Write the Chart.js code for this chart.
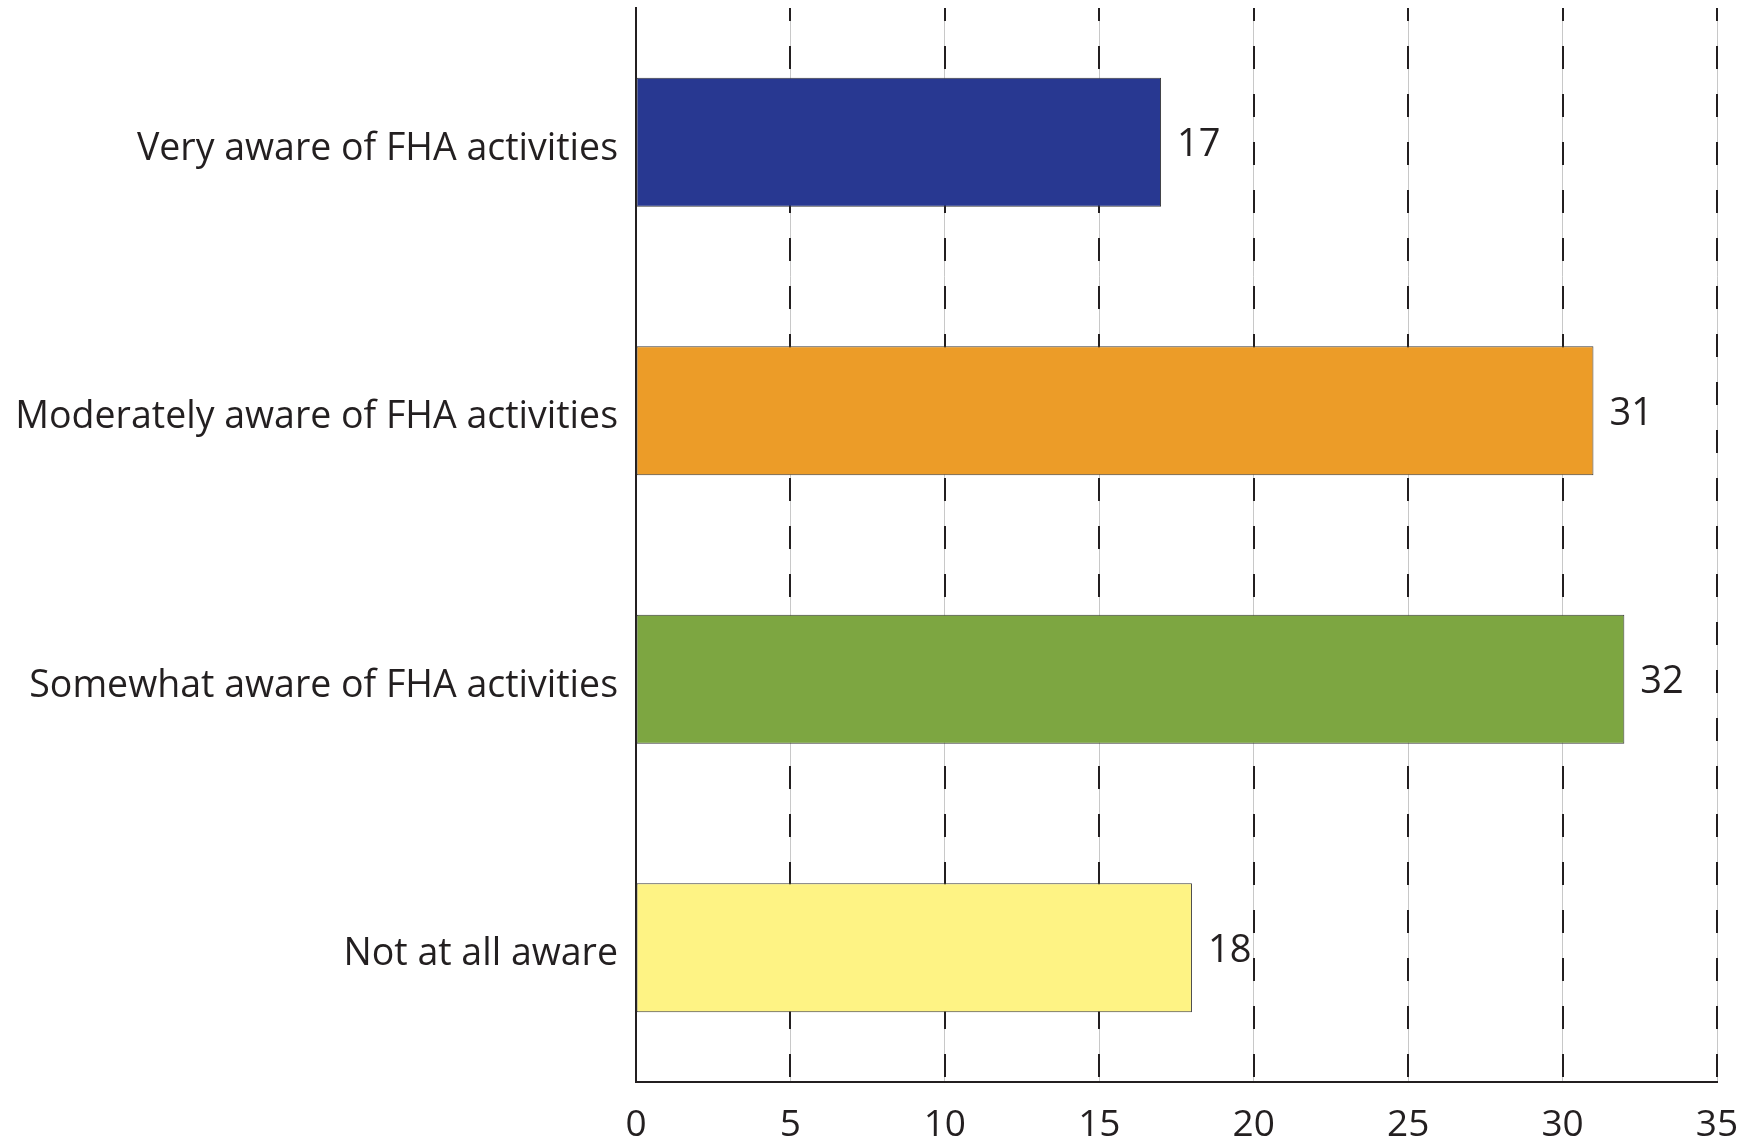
<!DOCTYPE html>
<html>
<head>
<meta charset="utf-8">
<script src="https://cdn.jsdelivr.net/npm/chart.js@4"></script>
<style>
html,body{margin:0;padding:0;background:#fff;}
#wrap{width:1754px;height:1142px;}
</style>
</head>
<body>
<div id="wrap"><canvas id="c" width="1754" height="1142"></canvas></div>
<script>
const categories = ["Very aware of FHA activities", "Moderately aware of FHA activities", "Somewhat aware of FHA activities", "Not at all aware"];
const values = [17, 31, 32, 18];
const barColors = ["#283891", "#EC9C28", "#7DA641", "#FEF384"];
const xMin = 0, xMax = 35, xStep = 5;

const FONT = "'Open Sans', sans-serif";
const TEXT = "#231F20";

const valueLabels = {
  id: 'valueLabels',
  afterDatasetsDraw(chart) {
    const ctx = chart.ctx;
    const meta = chart.getDatasetMeta(0);
    ctx.save();
    ctx.font = "38px " + FONT;
    ctx.fillStyle = TEXT;
    ctx.textAlign = 'left';
    ctx.textBaseline = 'middle';
    meta.data.forEach((el, i) => {
      ctx.fillText(String(values[i]), el.x + 16, el.y + 3);
    });
    ctx.restore();
  }
};

new Chart(document.getElementById('c'), {
  type: 'bar',
  data: {
    labels: categories,
    datasets: [{
      data: values,
      backgroundColor: barColors,
      borderColor: '#3a3a3a',
      borderWidth: 1,
      borderSkipped: false,
      barPercentage: 0.48,
      categoryPercentage: 1.0
    }]
  },
  options: {
    indexAxis: 'y',
    responsive: false,
    animation: false,
    devicePixelRatio: 1,
    layout: { padding: { top: 8, right: 37, left: 0, bottom: 0 } },
    plugins: { legend: { display: false }, tooltip: { enabled: false } },
    scales: {
      x: {
        type: 'linear',
        position: 'bottom',
        min: xMin, max: xMax,
        ticks: { stepSize: xStep, color: TEXT, font: { family: FONT, size: 37 }, padding: 21 },
        grid: { display: true, color: '#c8c8c8', lineWidth: 1, drawTicks: false },
        border: { display: true, color: '#231F20', width: 2 },
        afterFit(s) { s.height = 60; s.paddingLeft = 0; s.paddingRight = 0; }
      },
      x2: {
        type: 'linear',
        position: 'bottom',
        min: xMin, max: xMax,
        ticks: { stepSize: xStep, display: false },
        grid: { display: true, color: '#231F20', lineWidth: 2, drawTicks: false },
        border: { display: false, dash: [23, 25], dashOffset: 10 },
        afterFit(s) { s.height = 0; s.paddingLeft = 0; s.paddingRight = 0; }
      },
      y: {
        ticks: { color: TEXT, font: { family: FONT, size: 37.5 }, padding: 18, labelOffset: 7 },
        grid: { display: false, drawTicks: false },
        border: { display: true, color: '#231F20', width: 2 },
        afterFit(s) { s.width = 636; s.paddingTop = 0; s.paddingBottom = 0; }
      }
    }
  },
  plugins: [valueLabels]
});
</script>
</body>
</html>
